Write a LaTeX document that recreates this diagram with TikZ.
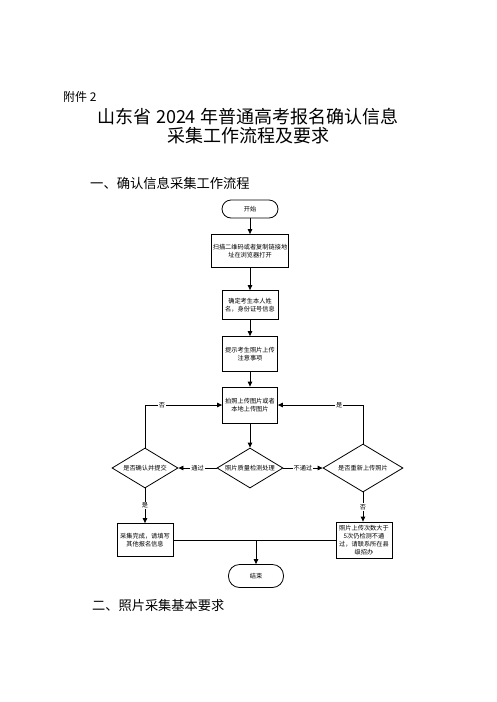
\documentclass[tikz,border=0pt]{standalone}
\usepackage{fontspec}
\setmainfont{Noto Sans CJK SC}
\usetikzlibrary{shapes.geometric,arrows.meta}
\begin{document}
\begin{tikzpicture}[x=1pt,y=-1pt,
  small/.style={font=\fontsize{6.2}{8}\selectfont},
  boxnode/.style={draw, line width=0.8pt, small, align=center, inner sep=1pt},
  termnode/.style={draw, line width=0.8pt, small, rounded corners=9pt, inner sep=1pt},
  dianode/.style={draw, diamond, line width=0.8pt, small, inner sep=0pt, aspect=1.65},
  arr/.style={line width=0.8pt, -{Triangle[length=5pt,width=4.5pt]}},
  ln/.style={line width=0.8pt},
  lbl/.style={small, fill=white, inner sep=1pt}]
\fill[white] (0,0) rectangle (496,702);
\useasboundingbox (0,0) rectangle (496,702);

\node[anchor=west, font=\fontsize{12}{12}\selectfont, inner sep=0pt] (att) at (63,97) {附件 2};
\node[align=center, font=\fontsize{18}{18.5}\selectfont, inner sep=0pt] (title) at (248,126) {山东省 2024 年普通高考报名确认信息\\采集工作流程及要求};
\node[anchor=west, font=\fontsize{13.3}{14}\selectfont, inner sep=0pt] (sec1) at (90,183) {一、确认信息采集工作流程};
\node[anchor=west, font=\fontsize{13.2}{14}\selectfont, inner sep=0pt] (sec2) at (92,605) {二、照片采集基本要求};

\node[termnode, minimum width=56pt, minimum height=18pt] (start) at (250,209) {开始};
\node[boxnode, minimum width=75pt, minimum height=33pt] (b1) at (250,251) {扫描二维码或者复制链接地\\址在浏览器打开};
\node[boxnode, minimum width=56pt, minimum height=29pt] (b2) at (250,305) {确定考生本人姓\\名，身份证号信息};
\node[boxnode, minimum width=55pt, minimum height=35pt] (b3) at (250,354) {提示考生照片上传\\注意事项};
\node[boxnode, minimum width=55pt, minimum height=36pt] (b4) at (250,405) {拍照上传图片或者\\本地上传图片};
\node[dianode, minimum width=66pt, minimum height=40pt] (d1) at (250,468) {照片质量检测处理};
\node[dianode, minimum width=66pt, minimum height=40pt] (dL) at (145,468) {是否确认并提交};
\node[dianode, minimum width=80pt, minimum height=48pt] (dR) at (363,468) {是否重新上传照片};
\node[boxnode, minimum width=56pt, minimum height=33pt] (b5) at (145,540) {采集完成，请填写\\其他报名信息};
\node[boxnode, minimum width=56pt, minimum height=36pt] (b6) at (364,540) {照片上传次数大于\\5次仍检测不通\\过，请联系所在县\\级招办};
\node[termnode, minimum width=55pt, minimum height=23pt, rounded corners=11pt] (end) at (256,576) {结束};

\draw[arr] (start) -- (b1);
\draw[arr] (b1) -- (b2);
\draw[arr] (b2) -- (b3);
\draw[arr] (b3) -- (b4);
\draw[arr] (b4) -- (d1);
\draw[arr] (d1.west) -- node[lbl]{通过} (dL.east);
\draw[arr] (d1.east) -- node[lbl]{不通过} (dR.west);
\draw[arr] (dL.north) |- node[lbl, pos=0.61]{否} (b4.west);
\draw[arr] (dR.north) |- node[lbl, pos=0.64]{是} (b4.east);
\draw[arr] (dL.south) -- node[lbl]{是} (b5.north);
\draw[arr] (dR.south) -- node[lbl]{否} (b6.north -| dR.south);
\draw[ln] (b5.east) -- (b6.west);
\coordinate (j) at (end.north |- b5.east);
\draw[arr] (j) -- (end.north);
\end{tikzpicture}
\end{document}
